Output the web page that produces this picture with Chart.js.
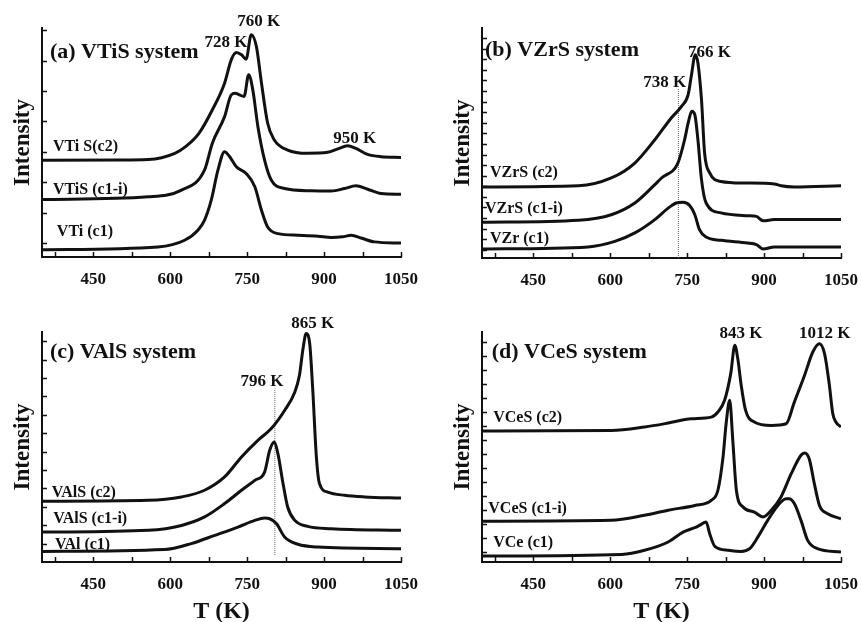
<!DOCTYPE html>
<html>
<head>
<meta charset="utf-8">
<script src="https://cdn.jsdelivr.net/npm/chart.js@4/dist/chart.umd.min.js"></script>
<style>
html,body{margin:0;padding:0;background:#fff;overflow:hidden;width:861px;height:622px;}
canvas{position:absolute;}
</style>
</head>
<body>
<canvas id="pa" style="left:0;top:0" width="430" height="290"></canvas>
<canvas id="pb" style="left:430px;top:0" width="440" height="290"></canvas>
<canvas id="pc" style="left:0;top:290px" width="430" height="340"></canvas>
<canvas id="pd" style="left:430px;top:290px" width="440" height="340"></canvas>
<script>
// ---------- tick values ----------
const xTicks = [375, 450, 525, 600, 675, 750, 825, 900, 975, 1050];
const xLabelled = [450, 600, 750, 900, 1050];
const aYTicks = [6, 19.3, 32.6, 45.9, 59.2, 72.5, 85.8, 99.1];
const bYTicks = [3.6, 8.2, 12.8, 17.4, 22, 26.6, 31.2, 35.8, 40.4, 45, 49.6, 54.2, 58.8, 63.4, 68, 72.6, 77.2, 81.8, 86.4, 91, 95.6];
const cYTicks = [8, 16, 24, 32, 40, 48, 56, 64, 72, 80, 88, 96];
const dYTicks = [4.3, 10.4, 16.5, 22.6, 28.7, 34.8, 40.9, 47, 53.1, 59.2, 65.3, 71.4, 77.5, 83.6, 89.7, 95.8];

// ---------- panel (a) VTiS ----------
const aC2T  = [350, 500, 557, 609, 630, 656, 682, 706, 719, 729, 739, 748, 758, 768, 778, 790, 803, 829, 868, 907, 927, 946, 962, 985, 1011, 1050];
const aC2I  = [42.3, 42.4, 42.6, 45.3, 48.2, 54.0, 64.2, 75.9, 86.1, 89.3, 88.3, 86.4, 97.1, 92.0, 75.9, 58.4, 51.1, 46.7, 45.3, 45.7, 47.2, 48.6, 47.4, 44.8, 43.8, 43.5];
const aC1iT = [350, 557, 622, 667, 682, 706, 719, 727, 735, 744, 753, 761, 771, 784, 797, 823, 875, 914, 940, 962, 985, 1011, 1050];
const aC1iI = [25.1, 26.3, 29.2, 38.0, 49.6, 61.3, 70.8, 71.5, 70.8, 70.1, 79.6, 73.0, 56.9, 42.3, 33.6, 29.9, 28.9, 28.8, 29.9, 31.1, 29.6, 27.7, 27.4];
const aC1T  = [350, 576, 628, 654, 667, 680, 693, 706, 716, 729, 748, 765, 778, 790, 810, 849, 888, 914, 936, 953, 972, 998, 1050];
const aC1I  = [3.2, 4.4, 7.3, 11.7, 16.1, 24.8, 37.9, 46.0, 43.8, 39.4, 36.5, 30.7, 20.4, 13.1, 10.2, 9.5, 9.1, 8.5, 8.8, 9.5, 8.3, 6.6, 6.1];

// ---------- panel (b) VZrS ----------
const bC2T  = [350, 538, 602, 648, 687, 719, 739, 752, 758, 766, 771, 778, 784, 794, 816, 862, 920, 933, 959, 1050];
const bC2I  = [30.9, 31.4, 34.8, 41.3, 51.4, 60.9, 65.9, 71.0, 79.0, 88.4, 84.8, 68.8, 45.7, 37.0, 33.3, 32.6, 32.2, 31.4, 30.9, 31.4];
const bC1iT = [350, 538, 602, 648, 687, 700, 732, 745, 752, 759, 765, 771, 778, 787, 816, 868, 885, 898, 920, 1050];
const bC1iI = [15.5, 16.4, 18.8, 23.9, 31.9, 34.8, 41.3, 51.4, 58.7, 63.8, 62.3, 51.4, 34.1, 23.9, 19.6, 18.4, 18.1, 16.2, 16.7, 16.7];
const bC1T  = [350, 557, 609, 648, 687, 713, 729, 742, 755, 765, 774, 787, 816, 868, 885, 898, 920, 1050];
const bC1I  = [3.9, 4.8, 7.2, 10.9, 16.7, 21.7, 23.9, 24.2, 22.8, 18.8, 12.3, 9.1, 7.7, 6.5, 5.8, 3.9, 4.8, 4.8];
const bMarkT = [733, 733];
const bMarkI = [0, 73.5];

// ---------- panel (c) VAlS ----------
const cC2T  = [350, 557, 622, 667, 706, 739, 771, 797, 823, 843, 852, 859, 865, 872, 878, 885, 891, 907, 940, 979, 1050];
const cC2I  = [26.4, 26.8, 28.3, 31.2, 37.0, 45.7, 52.9, 58.0, 65.9, 73.9, 81.2, 92.8, 99.3, 94.9, 74.6, 45.7, 34.1, 30.4, 29.0, 28.3, 27.8];
const cC1iT = [350, 557, 622, 667, 706, 739, 765, 784, 794, 803, 810, 820, 829, 843, 868, 914, 1050];
const cC1iI = [13.0, 13.8, 15.9, 19.6, 25.4, 31.2, 35.5, 39.1, 48.6, 52.2, 47.1, 34.1, 23.9, 18.1, 15.5, 14.5, 13.8];
const cC1T  = [350, 589, 641, 687, 732, 765, 784, 794, 807, 823, 849, 888, 1050];
const cC1I  = [4.6, 5.4, 8.0, 11.6, 15.2, 18.1, 19.1, 18.8, 16.7, 10.9, 7.7, 6.5, 5.8];
const cMarkT = [804, 804];
const cMarkI = [3, 75.4];

// ---------- panel (d) VCeS ----------
const dC2T  = [350, 602, 667, 713, 758, 797, 810, 823, 835, 843, 849, 855, 864, 881, 914, 943, 959, 979, 995, 1008, 1018, 1027, 1034, 1040, 1050];
const dC2I  = [57.0, 57.2, 58.7, 60.4, 62.3, 63.0, 65.2, 70.3, 81.9, 94.2, 88.0, 77.5, 65.9, 60.9, 59.4, 60.1, 69.5, 81.2, 91.3, 94.9, 90.5, 77.5, 64.5, 60.9, 58.7];
const dC1iT = [350, 602, 667, 713, 765, 797, 810, 820, 826, 833, 839, 846, 859, 881, 898, 914, 933, 953, 972, 979, 988, 998, 1008, 1024, 1050];
const dC1iI = [17.7, 18.1, 20.3, 22.5, 24.6, 26.8, 31.2, 45.7, 60.1, 70.3, 52.9, 31.2, 23.9, 21.7, 19.6, 22.5, 28.3, 38.4, 46.4, 47.4, 44.9, 34.1, 24.6, 21.0, 18.8];
const dC1T  = [350, 622, 667, 713, 742, 765, 774, 787, 794, 804, 830, 855, 872, 888, 907, 927, 943, 949, 959, 972, 985, 1004, 1050];
const dC1I  = [2.6, 3.3, 5.1, 8.7, 13.0, 14.9, 15.9, 17.4, 12.3, 6.8, 5.1, 4.6, 5.8, 10.9, 18.1, 24.6, 27.5, 27.5, 25.4, 18.1, 9.4, 5.8, 4.3];

// ---------- texts ----------
const aTexts = ['(a) VTiS system', '728 K', '760 K', '950 K', 'VTi S(c2)', 'VTiS (c1-i)', 'VTi (c1)'];
const bTexts = ['(b) VZrS system', '766 K', '738 K', 'VZrS (c2)', 'VZrS (c1-i)', 'VZr (c1)'];
const cTexts = ['(c) VAlS system', '865 K', '796 K', 'VAlS (c2)', 'VAlS (c1-i)', 'VAl (c1)'];
const dTexts = ['(d) VCeS system', '843 K', '1012 K', 'VCeS (c2)', 'VCeS (c1-i)', 'VCe (c1)'];

// annotation anchors (data coordinates) and styling
const aAnchors = [[365.5,89.6,22,'left'],[708.7,93.5,17,'center'],[772.7,102.9,17,'center'],[960,51.5,17,'center'],[371.3,48.0,16,'left'],[371.3,29.2,16,'left'],[379,10.8,16,'left']];
const bAnchors = [[355.8,90.1,22,'left'],[793.4,89.5,17,'center'],[706.2,76.4,17,'center'],[365.5,37.0,16,'left'],[355.8,21.4,16,'left'],[365.5,8.4,16,'left']];
const cAnchors = [[365.5,91.3,22,'left'],[877.8,103.7,17,'center'],[779.1,78.3,17,'center'],[369,30.2,16,'left'],[371.9,18.6,16,'left'],[375.2,7.3,16,'left']];
const dAnchors = [[368.8,91.3,22,'left'],[855.1,99.3,17,'center'],[1018.4,99.3,17,'center'],[371.9,62.6,16,'left'],[362.3,22.9,16,'left'],[371.9,8.4,16,'left']];

const FONT = "'Liberation Serif', 'Times New Roman', serif";
const INK = '#111';

function pts(xs, ys){ return xs.map((x,i)=>({x:x, y:ys[i]})); }

const textPlugin = {
  id: 'panelTexts',
  afterDraw(chart, args, opts) {
    const ctx = chart.ctx, xs = chart.scales.x, ys = chart.scales.y, ca = chart.chartArea;
    ctx.save();
    // inward ticks
    ctx.strokeStyle = INK; ctx.lineWidth = 1.5;
    ctx.beginPath();
    opts.xTicks.forEach(v => { const px = Math.round(xs.getPixelForValue(v)) + 0.5; ctx.moveTo(px, ca.bottom); ctx.lineTo(px, ca.bottom - 5); });
    opts.yTicks.forEach(v => { const py = Math.round(ys.getPixelForValue(v)) + 0.5; ctx.moveTo(ca.left, py); ctx.lineTo(ca.left + 5, py); });
    ctx.stroke();
    // labels
    ctx.fillStyle = INK; ctx.textBaseline = 'middle';
    opts.texts.forEach((t, i) => {
      const a = opts.anchors[i];
      ctx.font = 'bold ' + a[2] + 'px ' + FONT;
      ctx.textAlign = a[3];
      ctx.fillText(t, xs.getPixelForValue(a[0]), ys.getPixelForValue(a[1]));
    });
    ctx.restore();
  }
};

function makePanel(id, series, marker, yTicks, texts, anchors, pad, xHeight, showXTitle) {
  const datasets = series.map(s => ({
    data: pts(s[0], s[1]), borderColor: INK, borderWidth: 3, pointRadius: 0,
    cubicInterpolationMode: 'monotone', fill: false
  }));
  if (marker) datasets.push({ data: pts(marker[0], marker[1]), borderColor: '#666', borderWidth: 1, borderDash: [1, 1], pointRadius: 0, fill: false });
  new Chart(document.getElementById(id), {
    type: 'line',
    data: { datasets: datasets },
    options: {
      responsive: false, animation: false, devicePixelRatio: 1,
      layout: { padding: pad },
      plugins: { legend: { display: false }, tooltip: { enabled: false },
        panelTexts: { xTicks: xTicks, yTicks: yTicks, texts: texts, anchors: anchors } },
      scales: {
        x: {
          type: 'linear', min: 350, max: 1050,
          afterBuildTicks: s => { s.ticks = xTicks.map(v => ({ value: v })); },
          afterFit: s => { s.height = xHeight; },
          grid: { display: true, drawOnChartArea: false, drawTicks: false },
          border: { display: true, color: INK, width: 2 },
          ticks: { padding: 12, color: INK, maxRotation: 0, autoSkip: false,
            font: { family: FONT, size: 17, weight: 'bold' },
            callback: v => xLabelled.includes(v) ? String(v) : '' },
          title: { display: showXTitle, text: 'T (K)', color: INK, padding: { top: 0, bottom: 4 },
            font: { family: FONT, size: 24, weight: 'bold' } }
        },
        y: {
          type: 'linear', min: 0, max: 100,
          afterFit: s => { s.width = 42; },
          grid: { display: true, drawOnChartArea: false, drawTicks: false },
          border: { display: true, color: INK, width: 2 },
          ticks: { display: false },
          title: { display: true, text: 'Intensity', color: INK, padding: { top: 9, bottom: 0 },
            font: { family: FONT, size: 23, weight: 'bold' } }
        }
      }
    },
    plugins: [textPlugin]
  });
}

makePanel('pa', [[aC2T, aC2I], [aC1iT, aC1iI], [aC1T, aC1I]], null, aYTicks, aTexts, aAnchors,
  { left: 0, top: 28, right: 27, bottom: 0 }, 33, false);
makePanel('pb', [[bC2T, bC2I], [bC1iT, bC1iI], [bC1T, bC1I]], [bMarkT, bMarkI], bYTicks, bTexts, bAnchors,
  { left: 10, top: 28, right: 27, bottom: 0 }, 32, false);
makePanel('pc', [[cC2T, cC2I], [cC1iT, cC1iI], [cC1T, cC1I]], [cMarkT, cMarkI], cYTicks, cTexts, cAnchors,
  { left: 0, top: 42, right: 27, bottom: 0 }, 68, true);
makePanel('pd', [[dC2T, dC2I], [dC1iT, dC1iI], [dC1T, dC1I]], null, dYTicks, dTexts, dAnchors,
  { left: 10, top: 42, right: 27, bottom: 0 }, 68, true);
</script>
</body>
</html>
